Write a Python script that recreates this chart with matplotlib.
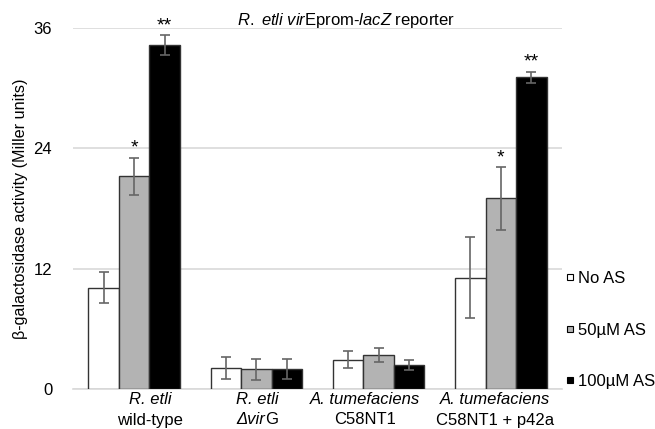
import numpy as np
import matplotlib
matplotlib.use('Agg')
import matplotlib.pyplot as plt
from matplotlib.lines import Line2D

plt.rcParams['font.family'] = ['Liberation Sans', 'DejaVu Sans']
plt.rcParams['mathtext.fontset'] = 'custom'
plt.rcParams['mathtext.rm'] = 'Liberation Sans'
plt.rcParams['mathtext.it'] = 'Liberation Sans:italic'

# strains on the x axis: italic first line, then (italic part, roman part) second line
strain_names = ['R. etli', 'R. etli', 'A. tumefaciens', 'A. tumefaciens']
strain_sub_it = ['', 'Δvir', '', '']
strain_sub_rm = ['wild-type', 'G', 'C58NT1', 'C58NT1 + p42a']

series_labels = ['No AS', '50µM AS', '100µM AS']
no_as = [10.1, 2.1, 2.9, 11.1]
no_as_err = [1.55, 1.1, 0.85, 4.05]
as_50 = [21.2, 1.95, 3.4, 19.0]
as_50_err = [1.85, 1.05, 0.7, 3.1]
as_100 = [34.3, 1.95, 2.4, 31.1]
as_100_err = [1.0, 1.0, 0.5, 0.55]

# significance marks above bars: (group, series index, text)
stars = [(0, 1, '*'), (0, 2, '**'), (3, 1, '*'), (3, 2, '**')]

yticks = [0, 12, 24, 36]

fig = plt.figure(figsize=(6.55, 4.29), dpi=100)
ax = fig.add_axes([73 / 655, 1 - 389 / 429, 489 / 655, 361 / 429])

values = [no_as, as_50, as_100]
errors = [no_as_err, as_50_err, as_100_err]
colors = ['white', '#b3b3b3', 'black']
x = np.arange(len(strain_names))
width = 0.25

for i, (vals, errs, col) in enumerate(zip(values, errors, colors)):
    pos = x + (i - 1) * width
    ax.bar(pos, vals, width, color=col, edgecolor='#333333', linewidth=1.0, zorder=3)
    ax.errorbar(pos, vals, yerr=errs, fmt='none', ecolor='#666666',
                elinewidth=1.2, capsize=3.3, capthick=1.2, zorder=4)

for g, s, txt in stars:
    xp = x[g] + (s - 1) * width
    top = values[s][g] + errors[s][g]
    ax.text(xp, top + 0.1, txt, ha='center', va='bottom', fontsize=14, clip_on=False)

ax.set_xlim(-0.5, 3.5)
ax.set_ylim(0, 36)
ax.set_yticks(yticks)
ax.set_yticklabels([str(t) for t in yticks], fontsize=12)
ax.tick_params(axis='y', length=0, pad=15)
ax.set_xticks([])
ax.grid(axis='y', color='#d9d9d9', linewidth=1.2, zorder=0)
for sp in ['top', 'right', 'left']:
    ax.spines[sp].set_visible(False)
ax.spines['bottom'].set_color('#d9d9d9')
ax.spines['bottom'].set_linewidth(1.2)

ax.set_ylabel('β-galactosidase activity (Miller units)', fontsize=11.6, labelpad=4)

# Excel-style label placement is not quite centred under each group
label_shift_px = [16, 1, -14, -6]
renderer = fig.canvas.get_renderer()
for i in range(len(strain_names)):
    xpx = 73 + (x[i] + 0.5) * 489 / 4 + label_shift_px[i]
    fig.text(xpx / 655, 1 - 400 / 429, strain_names[i], ha='center', va='center',
             fontsize=12, style='italic')
    if strain_sub_it[i]:
        # two pieces: italic then roman, centred together
        t1 = fig.text(0, 0, strain_sub_it[i], fontsize=12, style='italic')
        t2 = fig.text(0, 0, strain_sub_rm[i], fontsize=12)
        w1 = t1.get_window_extent(renderer).width
        w2 = t2.get_window_extent(renderer).width
        start = xpx - (w1 + w2) / 2
        t1.set_position((start / 655, 1 - 420 / 429))
        t1.set_va('center')
        t2.set_position(((start + w1) / 655, 1 - 420 / 429))
        t2.set_va('center')
    else:
        fig.text(xpx / 655, 1 - 420 / 429, strain_sub_rm[i], ha='center', va='center', fontsize=12)

fig.text(346 / 655, 1 - 21 / 429, r'$\mathit{R.\ etli\ vir}$Eprom-$\mathit{lacZ}$ reporter',
         ha='center', va='center', fontsize=12)

handles = [Line2D([], [], marker='s', linestyle='', markersize=5, markerfacecolor=c,
                  markeredgecolor='black', markeredgewidth=0.8) for c in colors]
ax.legend(handles, series_labels, loc='center left', bbox_to_anchor=(0.995, 0.163),
          frameon=False, fontsize=12, handlelength=0.5, handletextpad=0.2,
          labelspacing=2.2, borderaxespad=0)

plt.savefig('out.png', dpi=100)
